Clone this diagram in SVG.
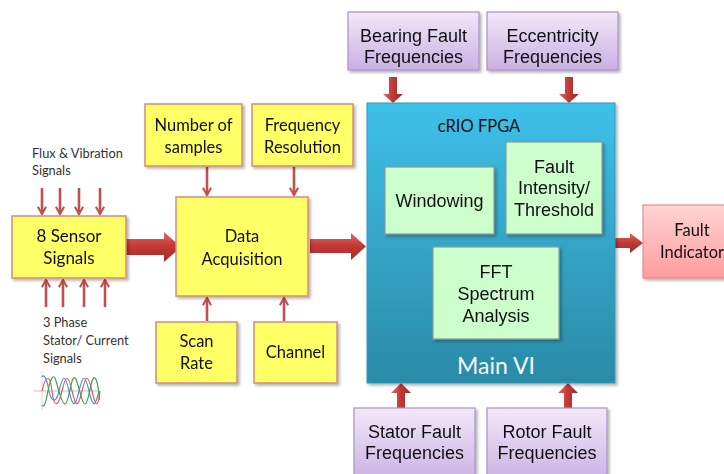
<svg xmlns="http://www.w3.org/2000/svg" width="724" height="474" viewBox="0 0 724 474">
  <defs>
    <style>
      .yel { fill: #ffff66; stroke: #d98a7a; stroke-width: 1.5; }
      .pur { fill: url(#gPurple); stroke: #a892c8; stroke-width: 1.2; }
      .grn { fill: #ccffcc; stroke: #8c9a9c; stroke-width: 1.2; }
      .cal { font-family: Lato, "Liberation Sans", sans-serif; fill: #111; text-anchor: middle; }
      .ari { font-family: "Liberation Sans", Arial, sans-serif; fill: #111; text-anchor: middle; }
      .t16 { font-size: 16.5px; }
      .t17 { font-size: 17px; }
      .t18 { font-size: 18px; }
      .small { font-family: Lato, "Liberation Sans", sans-serif; font-size: 12.8px; fill: #333; }
      .thin { stroke: #c0504d; stroke-width: 2.6; fill: none; marker-end: url(#chev); }
      .hArrow { fill: url(#gArrowH); }
      .vArrow { fill: url(#gArrowV); }
    </style>
    <linearGradient id="gPurple" x1="0" y1="0" x2="0" y2="1">
      <stop offset="0" stop-color="#f1e8f8"/>
      <stop offset="1" stop-color="#cbb0e4"/>
    </linearGradient>
    <linearGradient id="gMain" x1="0" y1="0" x2="0" y2="1">
      <stop offset="0" stop-color="#3ec0e9"/>
      <stop offset="1" stop-color="#2a8aa6"/>
    </linearGradient>
    <linearGradient id="gPink" x1="0" y1="0" x2="0" y2="1">
      <stop offset="0" stop-color="#ffd4d4"/>
      <stop offset="1" stop-color="#ff9c9c"/>
    </linearGradient>
    <linearGradient id="gArrowH" x1="0" y1="0" x2="0" y2="1">
      <stop offset="0" stop-color="#e06a66"/>
      <stop offset="0.45" stop-color="#c43a36"/>
      <stop offset="1" stop-color="#a02a27"/>
    </linearGradient>
    <linearGradient id="gArrowV" x1="0" y1="0" x2="1" y2="0">
      <stop offset="0" stop-color="#e06a66"/>
      <stop offset="0.45" stop-color="#c43a36"/>
      <stop offset="1" stop-color="#a02a27"/>
    </linearGradient>
    <filter id="shadow" x="-10%" y="-10%" width="125%" height="125%">
      <feDropShadow dx="2" dy="2" stdDeviation="1.5" flood-color="#000" flood-opacity="0.3"/>
    </filter>
    <marker id="chev" viewBox="0 0 10 10" refX="8" refY="5" markerWidth="4" markerHeight="4" orient="auto" markerUnits="strokeWidth">
      <polyline points="1,1 8,5 1,9" fill="none" stroke="#c0504d" stroke-width="2"/>
    </marker>
  </defs>

  <rect width="724" height="474" fill="#ffffff"/>

  <!-- connectors -->
  <g id="connectors">
    <!-- flux & vibration inputs -->
    <line class="thin" x1="42" y1="188" x2="42" y2="214"/>
    <line class="thin" x1="60" y1="188" x2="60" y2="214"/>
    <line class="thin" x1="79" y1="188" x2="79" y2="214"/>
    <line class="thin" x1="100" y1="188" x2="100" y2="214"/>
    <!-- stator current inputs -->
    <line class="thin" x1="46" y1="307" x2="46" y2="280"/>
    <line class="thin" x1="63" y1="307" x2="63" y2="280"/>
    <line class="thin" x1="84" y1="307" x2="84" y2="280"/>
    <line class="thin" x1="105" y1="307" x2="105" y2="280"/>
    <!-- parameters into data acquisition -->
    <line class="thin" x1="207" y1="167" x2="207" y2="195"/>
    <line class="thin" x1="294" y1="167" x2="294" y2="195"/>
    <line class="thin" x1="207" y1="321" x2="207" y2="298"/>
    <line class="thin" x1="284" y1="321" x2="284" y2="298"/>
    <!-- main flow block arrows -->
    <polygon class="hArrow" points="126,239 164,239 164,232 181,247 164,262 164,255 126,255"/>
    <polygon class="hArrow" points="310,239 351,239 351,233 366,246.5 351,260 351,253 310,253"/>
    <polygon class="hArrow" points="615,238 630,238 630,233 643,243 630,253 630,248 615,248"/>
    <!-- fault frequency inputs into main VI -->
    <polygon class="vArrow" points="389,77 397,77 397,94 403,94 393,103 383,94 389,94"/>
    <polygon class="vArrow" points="565,77 573,77 573,94 579,94 569,103 559,94 565,94"/>
    <polygon class="vArrow" points="397,408 405,408 405,393 411,393 401,383 391,393 397,393"/>
    <polygon class="vArrow" points="564,408 572,408 572,393 578,393 568,383 558,393 564,393"/>
  </g>

  <!-- side labels -->
  <text class="small" x="32" y="158">Flux &amp; Vibration</text>
  <text class="small" x="32" y="175">Signals</text>
  <text class="small" x="43" y="327">3 Phase</text>
  <text class="small" x="43" y="345">Stator/ Current</text>
  <text class="small" x="43" y="363">Signals</text>

  <!-- three phase waveform -->
  <g id="waveform" fill="none" stroke-width="1.2">
    <line x1="34" y1="391" x2="100" y2="391" stroke="#999" stroke-width="0.6"/>
    <line x1="42" y1="371" x2="42" y2="410" stroke="#bbb" stroke-width="0.5"/>
    <path stroke="#e8585a" d="M42,391 C46,374 50,374 52,391 S58,408 62,391 S68,374 72,391 S78,408 82,391 S88,374 92,391 S98,408 100,391"/>
    <path stroke="#4a90e2" d="M42,377 C45,372 48,385 49,391 S55,408 59,391 S65,374 69,391 S75,408 79,391 S85,374 89,391 S95,408 99,391"/>
    <path stroke="#4e9a4e" d="M42,405 C45,410 47,395 48,391 C50,380 53,374 55,378 S61,404 65,404 S71,374 75,378 S81,404 85,404 S91,374 95,378 S99,400 100,400"/>
  </g>

  <!-- nodes -->
  <g id="sensor-signals" filter="url(#shadow)">
    <rect class="yel" x="12" y="216" width="114" height="62"/>
    <text class="cal t17" x="69" y="242">8 Sensor</text>
    <text class="cal t17" x="69" y="264">Signals</text>
  </g>

  <g id="num-samples" filter="url(#shadow)">
    <rect class="yel" x="145" y="104" width="97" height="62"/>
    <text class="cal t16" x="193.5" y="131">Number of</text>
    <text class="cal t16" x="193.5" y="153">samples</text>
  </g>

  <g id="freq-resolution" filter="url(#shadow)">
    <rect class="yel" x="252" y="104" width="101" height="62"/>
    <text class="cal t16" x="302.5" y="131">Frequency</text>
    <text class="cal t16" x="302.5" y="153">Resolution</text>
  </g>

  <g id="data-acquisition" filter="url(#shadow)">
    <rect class="yel" x="176" y="197" width="132" height="99"/>
    <text class="cal t16" x="242" y="242">Data</text>
    <text class="cal t16" x="242" y="265">Acquisition</text>
  </g>

  <g id="scan-rate" filter="url(#shadow)">
    <rect class="yel" x="156" y="322" width="81" height="61"/>
    <text class="cal t16" x="196.5" y="347">Scan</text>
    <text class="cal t16" x="196.5" y="369">Rate</text>
  </g>

  <g id="channel" filter="url(#shadow)">
    <rect class="yel" x="254" y="322" width="83" height="61"/>
    <text class="cal t16" x="295.5" y="358">Channel</text>
  </g>

  <g id="bearing-fault" filter="url(#shadow)">
    <rect class="pur" x="348" y="12" width="131" height="58"/>
    <text class="ari t18" x="413.5" y="42">Bearing Fault</text>
    <text class="ari t18" x="413.5" y="63">Frequencies</text>
  </g>

  <g id="eccentricity" filter="url(#shadow)">
    <rect class="pur" x="487" y="12" width="131" height="58"/>
    <text class="ari t18" x="552.5" y="42">Eccentricity</text>
    <text class="ari t18" x="552.5" y="63">Frequencies</text>
  </g>

  <g id="main-vi">
    <rect x="367" y="103" width="248" height="280" fill="url(#gMain)" stroke="#2b9cc0" stroke-width="1" filter="url(#shadow)"/>
    <text class="cal" x="479" y="132" font-size="16.5">cRIO FPGA</text>
    <text x="496" y="374" font-family="Lato, 'Liberation Sans', sans-serif" font-size="23" fill="#f2fbff" text-anchor="middle">Main VI</text>
  </g>

  <g id="windowing" filter="url(#shadow)">
    <rect class="grn" x="385" y="167" width="109" height="67"/>
    <text class="ari t18" x="439.5" y="207">Windowing</text>
  </g>

  <g id="fault-intensity" filter="url(#shadow)">
    <rect class="grn" x="506" y="142" width="96" height="92"/>
    <text class="ari t18" x="554" y="173">Fault</text>
    <text class="ari t18" x="554" y="194">Intensity/</text>
    <text class="ari t18" x="554" y="216">Threshold</text>
  </g>

  <g id="fft" filter="url(#shadow)">
    <rect class="grn" x="433" y="247" width="126" height="92"/>
    <text class="ari t18" x="496" y="278">FFT</text>
    <text class="ari t18" x="496" y="300">Spectrum</text>
    <text class="ari t18" x="496" y="322">Analysis</text>
  </g>

  <g id="fault-indicator" filter="url(#shadow)">
    <rect x="643" y="205" width="100" height="73" fill="url(#gPink)" stroke="#e38d8d" stroke-width="1.2"/>
    <text class="cal t16" x="692" y="236" fill="#222">Fault</text>
    <text class="cal t16" x="692" y="258" fill="#222">Indicator</text>
  </g>

  <g id="stator-fault" filter="url(#shadow)">
    <rect class="pur" x="354" y="408" width="121" height="75"/>
    <text class="ari t18" x="414.5" y="438">Stator Fault</text>
    <text class="ari t18" x="414.5" y="459">Frequencies</text>
  </g>

  <g id="rotor-fault" filter="url(#shadow)">
    <rect class="pur" x="487" y="408" width="120" height="75"/>
    <text class="ari t18" x="547" y="438">Rotor Fault</text>
    <text class="ari t18" x="547" y="459">Frequencies</text>
  </g>
</svg>
